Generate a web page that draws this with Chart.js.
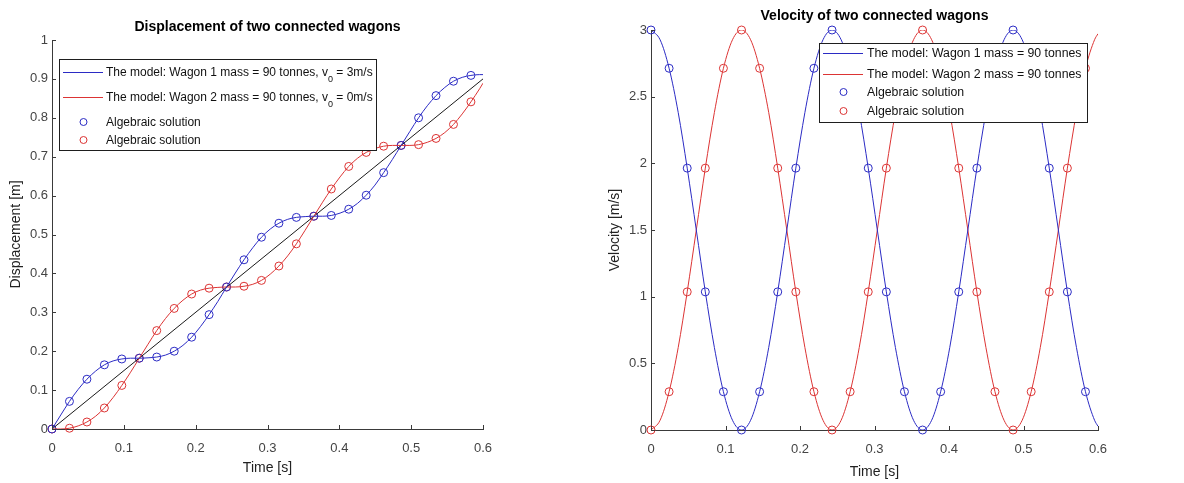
<!DOCTYPE html>
<html>
<head>
<meta charset="utf-8">
<title>Two connected wagons</title>
<script src="https://cdn.jsdelivr.net/npm/chart.js@4/dist/chart.umd.min.js"></script>
<style>
  body { margin: 0; background: #fff; }
  .pane { position: absolute; top: 0; width: 592px; height: 483px; }
</style>
</head>
<body>
<div class="pane" style="left:0"><canvas id="dispChart" width="592" height="483"></canvas></div>
<div class="pane" style="left:592px"><canvas id="velChart" width="592" height="483"></canvas></div>
<script>
// model output (time in s)
const modelTime = [0, 0.0122, 0.0243, 0.0365, 0.0486, 0.0608, 0.0729, 0.0851, 0.0972, 0.1094,
  0.1215, 0.1337, 0.1458, 0.1580, 0.1701, 0.1823, 0.1944, 0.2066, 0.2187, 0.2309,
  0.2430, 0.2552, 0.2673, 0.2795, 0.2916, 0.3038, 0.3159, 0.3281, 0.3402, 0.3524,
  0.3645, 0.3767, 0.3888, 0.4010, 0.4131, 0.4253, 0.4374, 0.4496, 0.4617, 0.4739,
  0.4860, 0.4982, 0.5103, 0.5225, 0.5346, 0.5468, 0.5589, 0.5711, 0.5832, 0.5954, 0.6];

const modelDisp1 = [0, 0.036, 0.071, 0.102, 0.128, 0.149, 0.165, 0.175, 0.180, 0.182,
  0.182, 0.183, 0.185, 0.190, 0.200, 0.215, 0.236, 0.263, 0.294, 0.328,
  0.365, 0.401, 0.435, 0.466, 0.493, 0.514, 0.529, 0.539, 0.544, 0.546,
  0.547, 0.547, 0.549, 0.555, 0.565, 0.580, 0.601, 0.627, 0.659, 0.693,
  0.729, 0.765, 0.800, 0.831, 0.857, 0.878, 0.894, 0.904, 0.909, 0.911, 0.911];

const modelDisp2 = [0, 0.000, 0.002, 0.008, 0.018, 0.033, 0.054, 0.081, 0.112, 0.146,
  0.182, 0.218, 0.253, 0.284, 0.310, 0.331, 0.347, 0.357, 0.362, 0.364,
  0.365, 0.365, 0.367, 0.372, 0.382, 0.398, 0.419, 0.445, 0.476, 0.511,
  0.547, 0.583, 0.617, 0.648, 0.675, 0.696, 0.711, 0.721, 0.727, 0.729,
  0.729, 0.729, 0.731, 0.737, 0.747, 0.762, 0.783, 0.810, 0.841, 0.875, 0.889];

const modelVel1 = [3, 2.927, 2.713, 2.382, 1.964, 1.5, 1.036, 0.618, 0.287, 0.073,
  0, 0.073, 0.287, 0.618, 1.036, 1.5, 1.964, 2.382, 2.713, 2.927,
  3, 2.927, 2.713, 2.382, 1.964, 1.5, 1.036, 0.618, 0.287, 0.073,
  0, 0.073, 0.287, 0.618, 1.036, 1.5, 1.964, 2.382, 2.713, 2.927,
  3, 2.927, 2.713, 2.382, 1.964, 1.5, 1.036, 0.618, 0.287, 0.073, 0.028];

const modelVel2 = [0, 0.073, 0.287, 0.618, 1.036, 1.5, 1.964, 2.382, 2.713, 2.927,
  3, 2.927, 2.713, 2.382, 1.964, 1.5, 1.036, 0.618, 0.287, 0.073,
  0, 0.073, 0.287, 0.618, 1.036, 1.5, 1.964, 2.382, 2.713, 2.927,
  3, 2.927, 2.713, 2.382, 1.964, 1.5, 1.036, 0.618, 0.287, 0.073,
  0, 0.073, 0.287, 0.618, 1.036, 1.5, 1.964, 2.382, 2.713, 2.927, 2.972];

// centre of mass line
const centreTime = [0, 0.6];
const centreDisp = [0, 0.9];

// algebraic solution (circles)
const solTime = [0, 0.0243, 0.0486, 0.0729, 0.0972, 0.1215, 0.1458, 0.1701, 0.1944, 0.2187,
  0.2430, 0.2673, 0.2916, 0.3159, 0.3402, 0.3645, 0.3888, 0.4131, 0.4374, 0.4617,
  0.4860, 0.5103, 0.5346, 0.5589, 0.5832];
const solDisp1 = [0, 0.071, 0.128, 0.165, 0.180, 0.182, 0.185, 0.200, 0.236, 0.294,
  0.365, 0.435, 0.493, 0.529, 0.544, 0.547, 0.549, 0.565, 0.601, 0.659,
  0.729, 0.800, 0.857, 0.894, 0.909];
const solDisp2 = [0, 0.002, 0.018, 0.054, 0.112, 0.182, 0.253, 0.310, 0.347, 0.362,
  0.365, 0.367, 0.382, 0.419, 0.476, 0.547, 0.617, 0.675, 0.711, 0.727,
  0.729, 0.731, 0.747, 0.783, 0.841];
const solVel1 = [3, 2.713, 1.964, 1.036, 0.287, 0, 0.287, 1.036, 1.964, 2.713,
  3, 2.713, 1.964, 1.036, 0.287, 0, 0.287, 1.036, 1.964, 2.713,
  3, 2.713, 1.964, 1.036, 0.287];
const solVel2 = [0, 0.287, 1.036, 1.964, 2.713, 3, 2.713, 1.964, 1.036, 0.287,
  0, 0.287, 1.036, 1.964, 2.713, 3, 2.713, 1.964, 1.036, 0.287,
  0, 0.287, 1.036, 1.964, 2.713];

// tick values
const timeTicks = [0, 0.1, 0.2, 0.3, 0.4, 0.5, 0.6];
const dispTicks = [0, 0.1, 0.2, 0.3, 0.4, 0.5, 0.6, 0.7, 0.8, 0.9, 1];
const velTicks = [0, 0.5, 1, 1.5, 2, 2.5, 3];

const BLUE = "#2b2bc4";
const RED = "#dc3434";
const AXIS = "#3a3a3a";
const FONT = '"Liberation Sans", Arial, Helvetica, sans-serif';

const pts = (xs, ys) => xs.map((x, i) => ({ x: x, y: ys[i] }));

// matlab style ticks pointing into the axes
const ticksIn = {
  id: "ticksIn",
  afterDraw(chart) {
    const { ctx, chartArea: a, scales: { x, y } } = chart;
    ctx.save();
    ctx.strokeStyle = AXIS;
    ctx.lineWidth = 1;
    ctx.beginPath();
    x.ticks.forEach((t) => {
      const px = Math.round(x.getPixelForValue(t.value)) + 0.5;
      ctx.moveTo(px, a.bottom);
      ctx.lineTo(px, a.bottom - 4);
    });
    y.ticks.forEach((t) => {
      const py = Math.round(y.getPixelForValue(t.value)) + 0.5;
      ctx.moveTo(a.left, py);
      ctx.lineTo(a.left + 4, py);
    });
    ctx.stroke();
    ctx.restore();
  },
};

// title centred over the axes, not the canvas
const axesTitle = {
  id: "axesTitle",
  afterDraw(chart, args, opts) {
    const { ctx, chartArea: a } = chart;
    ctx.save();
    ctx.font = "bold 14px " + FONT;
    ctx.fillStyle = "#000";
    ctx.textAlign = "center";
    ctx.textBaseline = "alphabetic";
    ctx.fillText(opts.text, (a.left + a.right) / 2, opts.baseline);
    ctx.restore();
  },
};

// boxed legend with subscripts
const boxLegend = {
  id: "boxLegend",
  afterDraw(chart, args, opts) {
    const { ctx } = chart;
    const b = opts.box;
    const size = opts.fontSize || 12;
    ctx.save();
    ctx.fillStyle = "#fff";
    ctx.fillRect(b.x, b.y, b.w, b.h);
    ctx.strokeStyle = "#1e1e1e";
    ctx.lineWidth = 1;
    ctx.strokeRect(b.x + 0.5, b.y + 0.5, b.w, b.h);
    ctx.textAlign = "left";
    ctx.textBaseline = "alphabetic";
    opts.items.forEach((it) => {
      ctx.strokeStyle = it.color;
      ctx.beginPath();
      if (it.kind === "line") {
        ctx.moveTo(b.x + 4, it.y + 0.5);
        ctx.lineTo(b.x + 44, it.y + 0.5);
      } else {
        ctx.arc(b.x + 24.5, it.y, 3.5, 0, Math.PI * 2);
      }
      ctx.stroke();
      let tx = opts.textX;
      ctx.fillStyle = "#111";
      it.parts.forEach((p, i) => {
        const sub = i % 2 === 1;
        ctx.font = (sub ? "9px " : size + "px ") + FONT;
        ctx.fillText(p, tx, it.y + 4 + (sub ? 6 : 0));
        tx += ctx.measureText(p).width;
      });
    });
    ctx.restore();
  },
};

function lineSet(data, color) {
  return {
    data: data,
    showLine: true,
    borderColor: color,
    borderWidth: 1,
    pointRadius: 0,
    cubicInterpolationMode: "monotone",
    fill: false,
  };
}

function circleSet(data, color) {
  return {
    data: data,
    showLine: false,
    borderColor: color,
    backgroundColor: "rgba(0,0,0,0)",
    pointRadius: 4,
    pointBorderWidth: 1,
    clip: 8,
  };
}

function axes(yTicks, yMax, yTitle, yTitlePad, yWidth, xTitlePad, xHeight) {
  const tickFont = { family: FONT, size: 13 };
  return {
    x: {
      type: "linear",
      min: 0,
      max: 0.6,
      afterBuildTicks: (s) => { s.ticks = timeTicks.map((v) => ({ value: v })); },
      afterFit: (s) => { s.height = xHeight; },
      ticks: { color: "#444", font: tickFont, padding: 12, maxRotation: 0, callback: (v) => String(v) },
      grid: { display: false, drawTicks: false },
      border: { display: true, color: AXIS, width: 1 },
      title: { display: true, text: "Time [s]", color: "#222", font: { family: FONT, size: 14 }, padding: { top: 0, bottom: xTitlePad } },
    },
    y: {
      type: "linear",
      min: 0,
      max: yMax,
      afterBuildTicks: (s) => { s.ticks = yTicks.map((v) => ({ value: v })); },
      afterFit: (s) => { s.width = yWidth; },
      ticks: { color: "#444", font: tickFont, padding: 4, callback: (v) => String(v) },
      grid: { display: false, drawTicks: false },
      border: { display: true, color: AXIS, width: 1 },
      title: { display: true, text: yTitle, color: "#222", font: { family: FONT, size: 14 }, padding: { top: yTitlePad, bottom: 0 } },
    },
  };
}

const common = {
  responsive: false,
  animation: false,
  devicePixelRatio: 1,
  events: [],
};

new Chart(document.getElementById("dispChart"), {
  type: "scatter",
  data: {
    datasets: [
      lineSet(pts(modelTime, modelDisp1), BLUE),
      lineSet(pts(modelTime, modelDisp2), RED),
      lineSet(pts(centreTime, centreDisp), "#1a1a1a"),
      circleSet(pts(solTime, solDisp1), BLUE),
      circleSet(pts(solTime, solDisp2), RED),
    ],
  },
  options: Object.assign({}, common, {
    layout: { padding: { top: 40, right: 109, left: 0, bottom: 0 } },
    scales: axes(dispTicks, 1, "Displacement [m]", 8, 52, 6, 54),
    plugins: {
      legend: { display: false },
      tooltip: { enabled: false },
      axesTitle: { text: "Displacement of two connected wagons", baseline: 31 },
      boxLegend: {
        box: { x: 59, y: 59, w: 317, h: 91 },
        textX: 106,
        fontSize: 12,
        items: [
          { kind: "line", color: BLUE, y: 72, parts: ["The model: Wagon 1 mass = 90 tonnes, v", "0", " = 3m/s"] },
          { kind: "line", color: RED, y: 97, parts: ["The model: Wagon 2 mass = 90 tonnes, v", "0", " = 0m/s"] },
          { kind: "circle", color: BLUE, y: 122, parts: ["Algebraic solution"] },
          { kind: "circle", color: RED, y: 140, parts: ["Algebraic solution"] },
        ],
      },
    },
  }),
  plugins: [ticksIn, axesTitle, boxLegend],
});

new Chart(document.getElementById("velChart"), {
  type: "scatter",
  data: {
    datasets: [
      lineSet(pts(modelTime, modelVel1), BLUE),
      lineSet(pts(modelTime, modelVel2), RED),
      circleSet(pts(solTime, solVel1), BLUE),
      circleSet(pts(solTime, solVel2), RED),
    ],
  },
  options: Object.assign({}, common, {
    layout: { padding: { top: 30, right: 86, left: 0, bottom: 0 } },
    scales: axes(velTicks, 3, "Velocity [m/s]", 15, 59, 2, 53),
    plugins: {
      legend: { display: false },
      tooltip: { enabled: false },
      axesTitle: { text: "Velocity of two connected wagons", baseline: 20 },
      boxLegend: {
        box: { x: 227, y: 43, w: 268, h: 79 },
        textX: 275,
        fontSize: 12.3,
        items: [
          { kind: "line", color: BLUE, y: 53, parts: ["The model: Wagon 1 mass = 90 tonnes"] },
          { kind: "line", color: RED, y: 74, parts: ["The model: Wagon 2 mass = 90 tonnes"] },
          { kind: "circle", color: BLUE, y: 92, parts: ["Algebraic solution"] },
          { kind: "circle", color: RED, y: 111, parts: ["Algebraic solution"] },
        ],
      },
    },
  }),
  plugins: [ticksIn, axesTitle, boxLegend],
});
</script>
</body>
</html>
